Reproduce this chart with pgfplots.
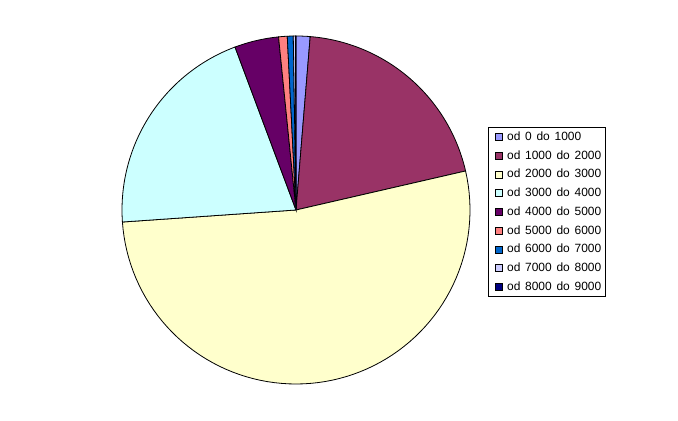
\documentclass[border=0pt]{standalone}
\usepackage{pgfplots}
\pgfplotsset{compat=1.18}
\usepackage{fontspec}
\setmainfont{Liberation Sans}
\definecolor{c1}{HTML}{9999FF}
\definecolor{c2}{HTML}{993366}
\definecolor{c3}{HTML}{FFFFCC}
\definecolor{c4}{HTML}{CCFFFF}
\definecolor{c5}{HTML}{660066}
\definecolor{c6}{HTML}{FF8080}
\definecolor{c7}{HTML}{0066CC}
\definecolor{c8}{HTML}{CCCCFF}
\definecolor{c9}{HTML}{000080}
\newcommand\legfont{\fontsize{12}{13}\selectfont\spaceskip=0.4em plus 0.1em\relax}
\gdef\cum{0}
\newcommand\slice[3]{% value, colour, label
  \pgfmathsetmacro\sa{\cum*3.6}%
  \pgfmathsetmacro\sb{(\cum+#1)*3.6}%
  \edef\doit{\noexpand\addplot[fill=#2, draw=black, line width=0.8bp, domain=\sa:\sb, samples=80]
    ({296+174*sin(x)},{211+174*cos(x)}) -- (axis cs:296,211) -- cycle;}%
  \doit
  \addlegendentry{#3}
  \pgfmathsetmacro\tmp{\cum+#1}\xdef\cum{\tmp}%
}
\begin{document}
\begin{tikzpicture}
\begin{axis}[
  scale only axis, width=678bp, height=421bp,
  xmin=0, xmax=678, ymin=0, ymax=421,
  hide axis, clip=false,
  legend style={at={(axis cs:488,294)}, anchor=north west, draw=black, line width=0.6bp,
    font=\legfont, inner xsep=3bp, inner ysep=3.5bp, row sep=6.75bp,
    nodes={inner sep=1bp, text height=8.5bp, text depth=1.5bp}},
  legend cell align=left,
  legend image code/.code={\draw[#1,draw=black,line width=0.5bp] (0bp,-3.5bp) rectangle (7bp,3.5bp);
    \path (-4bp,0bp) (10bp,0bp);},
]
\addplot[draw=none, forget plot] coordinates {(0,0) (678,421)};
\slice{1.3}{c1}{od 0 do 1000}
\slice{20.1}{c2}{od 1000 do 2000}
\slice{52.5}{c3}{od 2000 do 3000}
\slice{20.4}{c4}{od 3000 do 4000}
\slice{4.1}{c5}{od 4000 do 5000}
\slice{0.8}{c6}{od 5000 do 6000}
\slice{0.55}{c7}{od 6000 do 7000}
\slice{0.2}{c8}{od 7000 do 8000}
\slice{0.05}{c9}{od 8000 do 9000}
\end{axis}
\end{tikzpicture}
\end{document}
